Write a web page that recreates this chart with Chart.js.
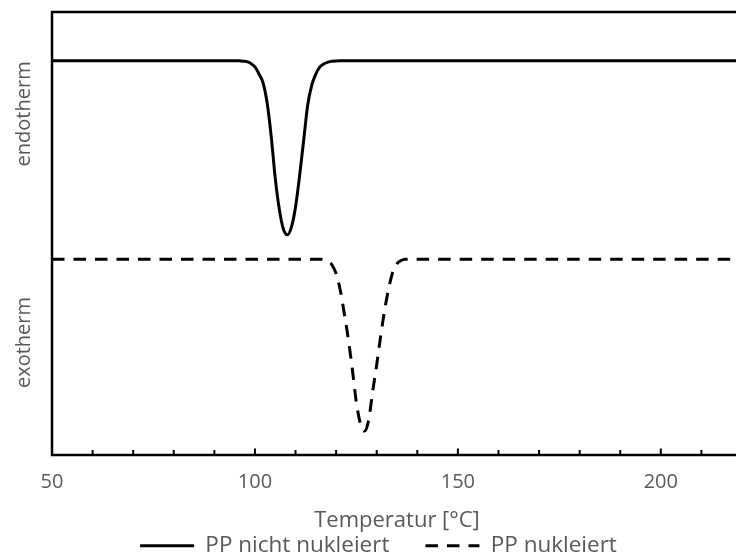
<!DOCTYPE html>
<html>
<head>
<meta charset="utf-8">
<script src="https://cdn.jsdelivr.net/npm/chart.js@4"></script>
<style>
  html, body { margin: 0; padding: 0; overflow: hidden; background: #fff; }
</style>
</head>
<body>
<canvas id="myChart" width="757" height="567"></canvas>
<script>
const tempSolid = [50, 96, 97, 98, 99, 100, 101, 102, 103, 104, 105, 106, 107, 108, 109, 110, 111, 112, 113, 114, 115, 116, 117, 118, 119, 121, 220];
const heatSolid = [89, 89, 88.9, 88.8, 88.4, 87.6, 86, 84, 79.5, 72, 62.5, 55.5, 51, 49.7, 51.5, 56, 63, 71, 79, 83.5, 86, 87.6, 88.3, 88.7, 88.9, 89, 89];

const tempDashed = [50, 116, 117, 118, 119, 120, 121, 122, 123, 124, 125, 126, 127, 128, 129, 130, 131, 132, 133, 134, 135, 136, 137, 139, 220];
const heatDashed = [44.2, 44.2, 44.1, 43.8, 42.9, 40.9, 37.3, 32, 26.2, 19.3, 11.8, 7, 5.4, 7.8, 14.3, 20.4, 27, 33, 37.8, 41.4, 43.2, 43.9, 44.2, 44.2, 44.2];

const seriesNames = ['PP nicht nukleiert', 'PP nukleiert'];
const xTickLabels = [50, 100, 150, 200];
const sideLabels = ['endotherm', 'exotherm'];

const grey = '#595959';
const fontFamily = '"Open Sans", "Noto Sans", sans-serif';

function points(xs, ys) {
    return xs.map((v, i) => ({x: v, y: ys[i]}));
}

// frame, inward ticks and the two side labels
const framePlugin = {
    id: 'frame',
    afterDatasetsDraw(chart) {
        const {ctx, chartArea: a, scales: {x, y}} = chart;
        ctx.save();
        ctx.strokeStyle = '#000';
        ctx.lineWidth = 2.5;
        ctx.beginPath();
        ctx.moveTo(a.right + 20, a.top);
        ctx.lineTo(a.left, a.top);
        ctx.lineTo(a.left, a.bottom);
        ctx.lineTo(a.right + 20, a.bottom);
        ctx.stroke();

        ctx.lineWidth = 2;
        x.ticks.forEach(t => {
            const px = x.getPixelForValue(t.value);
            const len = xTickLabels.includes(t.value) ? 6.5 : 5;
            ctx.beginPath();
            ctx.moveTo(px, a.bottom);
            ctx.lineTo(px, a.bottom - len);
            ctx.stroke();
        });

        ctx.fillStyle = grey;
        ctx.font = '20px ' + fontFamily;
        ctx.textAlign = 'center';
        ctx.textBaseline = 'middle';
        [77, 25.4].forEach((v, i) => {
            ctx.save();
            ctx.translate(a.left - 28, y.getPixelForValue(v));
            ctx.rotate(-Math.PI / 2);
            ctx.fillText(sideLabels[i], 0, 0);
            ctx.restore();
        });
        ctx.restore();
    }
};

const data = {
    datasets: [{
        label: seriesNames[0],
        data: points(tempSolid, heatSolid),
        borderColor: '#000',
        backgroundColor: '#000',
        borderWidth: 3,
        pointRadius: 0,
        cubicInterpolationMode: 'monotone',
    }, {
        label: seriesNames[1],
        data: points(tempDashed, heatDashed),
        borderColor: '#000',
        backgroundColor: '#000',
        borderWidth: 3,
        borderDash: [12.5, 9],
        pointRadius: 0,
        cubicInterpolationMode: 'monotone',
    }]
};

const options = {
    responsive: false,
    animation: false,
    layout: {
        padding: {left: 0, top: 12, right: 0, bottom: 0}
    },
    scales: {
        x: {
            type: 'linear',
            min: 50,
            max: 220,
            grid: {
                display: false,
                drawTicks: false
            },
            border: {
                display: false
            },
            ticks: {
                stepSize: 10,
                autoSkip: false,
                maxRotation: 0,
                padding: 15,
                color: grey,
                font: {family: fontFamily, size: 20},
                callback: v => xTickLabels.includes(v) ? String(v) : ''
            },
            title: {
                display: true,
                text: 'Temperatur [°C]',
                color: grey,
                font: {family: fontFamily, size: 22},
                padding: {top: -1.2, bottom: -35.7}
            }
        },
        y: {
            min: 0,
            max: 100,
            grid: {
                display: false,
                drawTicks: false
            },
            border: {
                display: false
            },
            ticks: {
                display: false
            },
            afterFit(scale) {
                scale.width = 52;
            }
        }
    },
    plugins: {
        legend: {
            position: 'bottom',
            labels: {
                usePointStyle: true,
                pointStyle: 'line',
                pointStyleWidth: 54,
                padding: 36,
                color: grey,
                font: {family: fontFamily, size: 22.5},
                generateLabels: chart => chart.data.datasets.map((ds, i) => ({
                    text: ds.label,
                    fillStyle: ds.borderColor,
                    strokeStyle: ds.borderColor,
                    lineWidth: ds.borderWidth,
                    lineDash: ds.borderDash || [],
                    pointStyle: 'line',
                    fontColor: grey,
                    hidden: false,
                    datasetIndex: i
                }))
            }
        },
        tooltip: {
            enabled: false
        }
    }
};

const config = {
    type: 'line',
    data: data,
    options,
    plugins: [framePlugin]
};

const myChart = new Chart(
    document.getElementById('myChart'),
    config
);
</script>
</body>
</html>
